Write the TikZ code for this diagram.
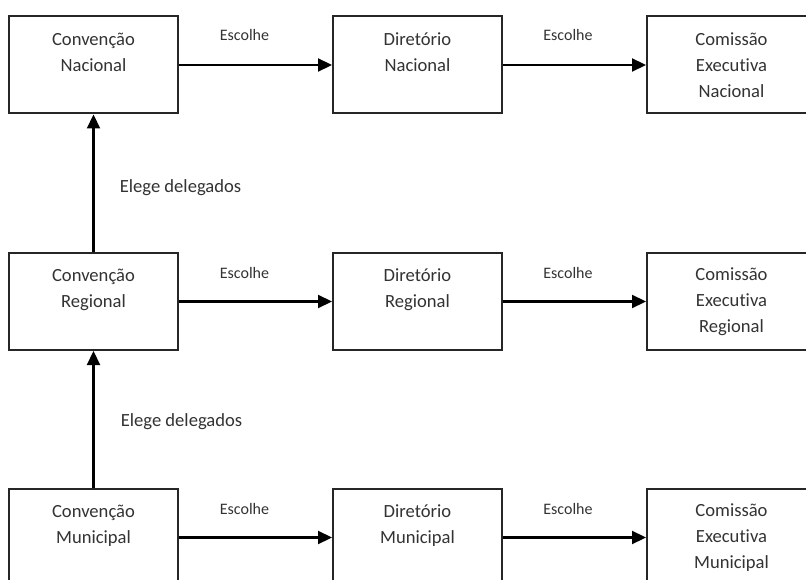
\documentclass[tikz,border=0pt]{standalone}
\usepackage{fontspec}
\setmainfont[Ligatures=NoCommon]{Carlito}
\usetikzlibrary{arrows.meta}
\begin{document}
\begin{tikzpicture}[x=1pt,y=-1pt,
 box/.style={draw=black!85,line width=2pt,minimum width=169pt,minimum height=97pt,inner sep=0pt,align=center,font=\fontsize{18.6}{26}\selectfont,text=black!80},
 conn/.style={line width=2.2pt,draw=black,-{Triangle[length=14pt,width=13pt]}},
 lbl/.style={anchor=base,font=\fontsize{16}{19}\selectfont,text=black!80},
 lbltwo/.style={anchor=base,font=\fontsize{18.6}{22}\selectfont,text=black!80}]
\clip (0,0) rectangle (806,580);
\fill[white] (0,0) rectangle (806,580);
% top row
\node[box] (cn) at (93.5,65) {Convenção\\Nacional\\\mbox{}};
\node[box] (dn) at (417.5,65) {Diretório\\Nacional\\\mbox{}};
\node[box] (en) at (731.5,65) {Comissão\\Executiva\\Nacional};
% middle row
\node[box] (cr) at (93.5,301.5) {Convenção\\Regional\\\mbox{}};
\node[box] (dr) at (417.5,301.5) {Diretório\\Regional\\\mbox{}};
\node[box] (er) at (731.5,301.5) {Comissão\\Executiva\\Regional};
% bottom row
\node[box] (cm) at (93.5,537.5) {Convenção\\Municipal\\\mbox{}};
\node[box] (dm) at (417.5,537.5) {Diretório\\Municipal\\\mbox{}};
\node[box] (em) at (731.5,537.5) {Comissão\\Executiva\\Municipal};
% connectors
\draw[conn] (cn.east) -- (dn.west);
\draw[conn] (dn.east) -- (en.west);
\draw[conn] (cr.east) -- (dr.west);
\draw[conn] (dr.east) -- (er.west);
\draw[conn] (cm.east) -- (dm.west);
\draw[conn] (dm.east) -- (em.west);
\draw[conn] (cr.north) -- (cn.south);
\draw[conn] (cm.north) -- (cr.south);
% labels
\node[lbl] (l1) at (244.5,41) {Escolhe};
\node[lbl] (l2) at (568,41) {Escolhe};
\node[lbl] (l3) at (244.5,278) {Escolhe};
\node[lbl] (l4) at (568,278) {Escolhe};
\node[lbl] (l5) at (244.5,514) {Escolhe};
\node[lbl] (l6) at (568,514) {Escolhe};
\node[lbltwo] (e1) at (180.5,193) {Elege delegados};
\node[lbltwo] (e2) at (181.5,426) {Elege delegados};
\end{tikzpicture}
\end{document}
